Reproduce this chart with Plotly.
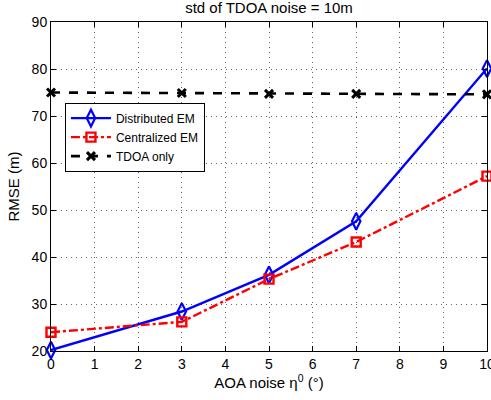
import plotly.graph_objects as go

x_vals = [0, 3, 5, 7, 10]
distributed_em = [20.2, 28.4, 36.2, 47.6, 80.1]
centralized_em = [24.0, 26.2, 35.3, 43.2, 57.2]
tdoa_only = [75.0, 74.9, 74.7, 74.7, 74.6]

x_ticks = list(range(0, 11))
y_ticks = list(range(20, 91, 10))

font_family = "Liberation Sans, Arial, Helvetica, sans-serif"

fig = go.Figure()
fig.add_trace(go.Scatter(
    x=x_vals, y=distributed_em, name="Distributed EM", mode="lines+markers",
    line=dict(color="#0000ff", width=2.4, dash="solid"),
    marker=dict(symbol="diamond-tall-open", size=12, color="#0000ff", line=dict(width=2.2, color="#0000ff")),
    cliponaxis=False,
))
fig.add_trace(go.Scatter(
    x=x_vals, y=centralized_em, name="Centralized EM", mode="lines+markers",
    line=dict(color="#ff0000", width=2.4, dash="dashdot"),
    marker=dict(symbol="square-open", size=9, color="#ff0000", line=dict(width=2.4, color="#ff0000")),
    cliponaxis=False,
))
fig.add_trace(go.Scatter(
    x=x_vals, y=tdoa_only, name="TDOA only", mode="lines+markers",
    line=dict(color="#000000", width=2.6, dash="dash"),
    marker=dict(symbol="x-thin-open", size=8, color="#000000", line=dict(width=3, color="#000000")),
    cliponaxis=False,
))

axis_common = dict(
    showline=True, linecolor="black", linewidth=1, mirror="ticks",
    ticks="inside", ticklen=5, tickcolor="black", tickwidth=1,
    showgrid=True, gridcolor="rgba(0,0,0,0.6)", griddash="1px,4px", gridwidth=1,
    zeroline=False, ticklabeloverflow="allow", automargin=False,
    tickfont=dict(family=font_family, size=14, color="black"),
)

fig.update_layout(
    width=491, height=400,
    margin=dict(l=51, r=4, t=22, b=49),
    paper_bgcolor="white", plot_bgcolor="white",
    font=dict(family=font_family, color="black"),
    title=dict(text="std of TDOA noise = 10m", xref="paper", x=0.5, xanchor="center", y=0.995, yanchor="top",
               font=dict(family=font_family, size=15, color="black")),
    xaxis=dict(range=[0, 10], tickvals=x_ticks, title=dict(text="AOA noise η<sup>0</sup> (°)", standoff=4,
               font=dict(family=font_family, size=15)), **axis_common),
    yaxis=dict(range=[20, 90], tickvals=y_ticks, title=dict(text="RMSE (m)", standoff=8,
               font=dict(family=font_family, size=15)), **axis_common),
    legend=dict(x=0.032, y=0.755, xanchor="left", yanchor="top",
                bgcolor="white", bordercolor="black", borderwidth=1,
                font=dict(family=font_family, size=12, color="black"),
                tracegroupgap=0, itemwidth=40),
    showlegend=True,
)

fig.write_html("out.html", config={"displayModeBar": False},
               post_script="document.body.style.margin='0';document.body.style.overflow='hidden';")
